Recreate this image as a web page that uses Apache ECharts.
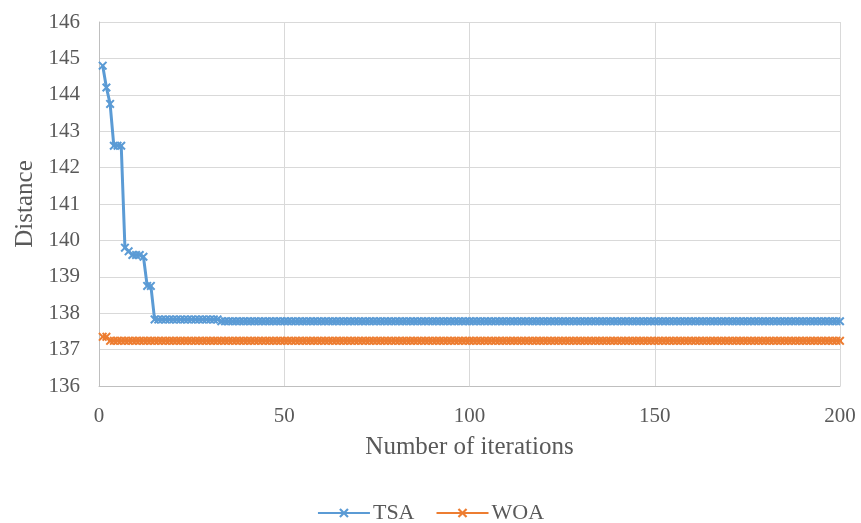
<!DOCTYPE html>
<html>
<head>
<meta charset="utf-8">
<script src="https://cdn.jsdelivr.net/npm/echarts@6/dist/echarts.min.js"></script>
<style>html,body{margin:0;padding:0;background:#fff}#c{width:861px;height:523px}</style>
</head>
<body>
<div id="c"></div>
<script>
const seriesNames = ["TSA", "WOA"];
const xTicks = [0, 50, 100, 150, 200];
const yTicks = [136, 137, 138, 139, 140, 141, 142, 143, 144, 145, 146];
// values for iterations 1..200
const tsa = [
144.8,144.2,143.75,142.6,142.6,142.6,139.8,139.7,139.6,139.6,139.6,139.55,
138.75,138.75,
137.83,137.83,137.83,137.83,137.83,137.83,137.83,137.83,137.83,137.83,137.83,137.83,
137.83,137.83,137.83,137.83,137.83,137.83,
137.78,137.78,137.78,137.78,137.78,137.78,137.78,137.78,137.78,137.78,137.78,137.78,
137.78,137.78,137.78,137.78,137.78,137.78,137.78,137.78,137.78,137.78,137.78,137.78,
137.78,137.78,137.78,137.78,137.78,137.78,137.78,137.78,137.78,137.78,137.78,137.78,
137.78,137.78,137.78,137.78,137.78,137.78,137.78,137.78,137.78,137.78,137.78,137.78,
137.78,137.78,137.78,137.78,137.78,137.78,137.78,137.78,137.78,137.78,137.78,137.78,
137.78,137.78,137.78,137.78,137.78,137.78,137.78,137.78,137.78,137.78,137.78,137.78,
137.78,137.78,137.78,137.78,137.78,137.78,137.78,137.78,137.78,137.78,137.78,137.78,
137.78,137.78,137.78,137.78,137.78,137.78,137.78,137.78,137.78,137.78,137.78,137.78,
137.78,137.78,137.78,137.78,137.78,137.78,137.78,137.78,137.78,137.78,137.78,137.78,
137.78,137.78,137.78,137.78,137.78,137.78,137.78,137.78,137.78,137.78,137.78,137.78,
137.78,137.78,137.78,137.78,137.78,137.78,137.78,137.78,137.78,137.78,137.78,137.78,
137.78,137.78,137.78,137.78,137.78,137.78,137.78,137.78,137.78,137.78,137.78,137.78,
137.78,137.78,137.78,137.78,137.78,137.78,137.78,137.78,137.78,137.78,137.78,137.78,
137.78,137.78,137.78,137.78,137.78,137.78,137.78,137.78,137.78,137.78,137.78,137.78
];
const woa = [
137.35,137.35,
137.24,137.24,137.24,137.24,137.24,137.24,137.24,137.24,137.24,137.24,137.24,137.24,
137.24,137.24,137.24,137.24,137.24,137.24,137.24,137.24,137.24,137.24,137.24,137.24,
137.24,137.24,137.24,137.24,137.24,137.24,137.24,137.24,137.24,137.24,137.24,137.24,
137.24,137.24,137.24,137.24,137.24,137.24,137.24,137.24,137.24,137.24,137.24,137.24,
137.24,137.24,137.24,137.24,137.24,137.24,137.24,137.24,137.24,137.24,137.24,137.24,
137.24,137.24,137.24,137.24,137.24,137.24,137.24,137.24,137.24,137.24,137.24,137.24,
137.24,137.24,137.24,137.24,137.24,137.24,137.24,137.24,137.24,137.24,137.24,137.24,
137.24,137.24,137.24,137.24,137.24,137.24,137.24,137.24,137.24,137.24,137.24,137.24,
137.24,137.24,137.24,137.24,137.24,137.24,137.24,137.24,137.24,137.24,137.24,137.24,
137.24,137.24,137.24,137.24,137.24,137.24,137.24,137.24,137.24,137.24,137.24,137.24,
137.24,137.24,137.24,137.24,137.24,137.24,137.24,137.24,137.24,137.24,137.24,137.24,
137.24,137.24,137.24,137.24,137.24,137.24,137.24,137.24,137.24,137.24,137.24,137.24,
137.24,137.24,137.24,137.24,137.24,137.24,137.24,137.24,137.24,137.24,137.24,137.24,
137.24,137.24,137.24,137.24,137.24,137.24,137.24,137.24,137.24,137.24,137.24,137.24,
137.24,137.24,137.24,137.24,137.24,137.24,137.24,137.24,137.24,137.24,137.24,137.24,
137.24,137.24,137.24,137.24,137.24,137.24,137.24,137.24,137.24,137.24,137.24,137.24,
137.24,137.24,137.24,137.24,137.24,137.24,137.24,137.24,137.24,137.24,137.24,137.24,
137.24,137.24,137.24,137.24,137.24,137.24,137.24,137.24,137.24,137.24,137.24,137.24
];
const colors = ["#5B9BD5", "#ED7D31"];
const FONT = "Liberation Serif";
const cross = "path://M0,1.6 L1.6,0 L5,3.4 L8.4,0 L10,1.6 L6.6,5 L10,8.4 L8.4,10 L5,6.6 L1.6,10 L0,8.4 L3.4,5 Z";

function pairs(arr) { return arr.map((v, i) => [i + 1, v]); }

const chart = echarts.init(document.getElementById("c"), null, {renderer: "canvas"});
chart.setOption({
  animation: false,
  textStyle: {fontFamily: FONT},
  grid: {left: 99, right: 21, top: 22, bottom: 137, containLabel: false},
  legend: {
    bottom: -6, left: "center",
    itemWidth: 52, itemHeight: 12, itemGap: 21,
    textStyle: {fontFamily: FONT, fontSize: 22, color: "#595959", padding: [0, 0, 0, -2]},
    data: seriesNames
  },
  xAxis: {
    type: "value", min: xTicks[0], max: xTicks[xTicks.length - 1], interval: 50,
    name: "Number of iterations", nameLocation: "middle", nameGap: 49,
    nameTextStyle: {fontFamily: FONT, fontSize: 25, color: "#595959"},
    axisLine: {show: true, lineStyle: {color: "#bfbfbf", width: 1}},
    axisTick: {show: false},
    axisLabel: {fontFamily: FONT, fontSize: 21, color: "#595959", margin: 20},
    splitLine: {show: true, lineStyle: {color: "#d9d9d9", width: 1}}
  },
  yAxis: {
    type: "value", min: yTicks[0], max: yTicks[yTicks.length - 1], interval: 1,
    name: "Distance", nameLocation: "middle", nameGap: 60, nameRotate: 90,
    nameTextStyle: {fontFamily: FONT, fontSize: 25, color: "#595959"},
    axisLine: {show: true, lineStyle: {color: "#bfbfbf", width: 1}},
    axisTick: {show: false},
    axisLabel: {fontFamily: FONT, fontSize: 21, color: "#595959", margin: 19},
    splitLine: {show: true, lineStyle: {color: "#d9d9d9", width: 1}}
  },
  series: [
    {
      name: seriesNames[0], type: "line", data: pairs(tsa),
      symbol: cross, symbolSize: 9, showAllSymbol: true,
      lineStyle: {color: colors[0], width: 3},
      itemStyle: {color: colors[0]}
    },
    {
      name: seriesNames[1], type: "line", data: pairs(woa),
      symbol: cross, symbolSize: 9, showAllSymbol: true,
      lineStyle: {color: colors[1], width: 3},
      itemStyle: {color: colors[1]}
    }
  ]
});
</script>
</body>
</html>
